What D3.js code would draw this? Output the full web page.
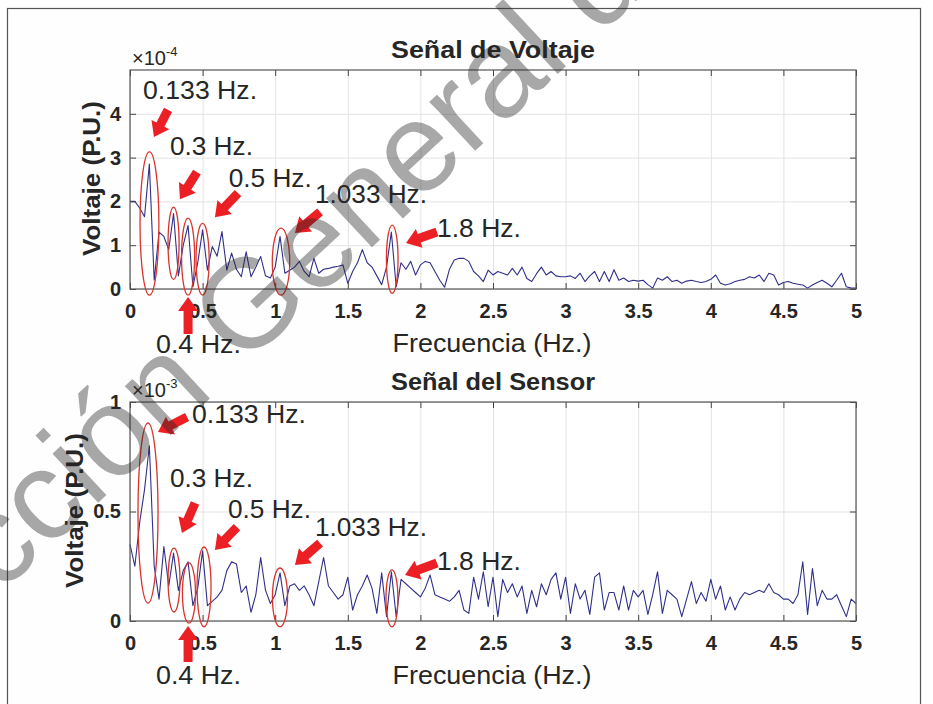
<!DOCTYPE html>
<html>
<head>
<meta charset="utf-8">
<script src="https://cdn.jsdelivr.net/npm/d3@7"></script>
<style>
  body { margin: 0; background: #fff; }
  svg { display: block; }
  text { font-family: "Liberation Sans", Arial, Helvetica, sans-serif; fill: #262626; }
</style>
</head>
<body>
<svg id="chart" width="933" height="704"></svg>
<script>
// spectrum bins, one every 1/30 Hz from 0 to 5 Hz
const binHz = 1 / 30;

// Señal de Voltaje, magnitude x1e-4 P.U.
const voltaje = [
  2.0, 2.0, 1.85, 1.65, 2.85, 0.2, 1.3, 1.2, 0.9, 1.72,
  0.3, 1.0, 1.45, 0.05, 0.6, 1.35, 0.43, 0.97, 0.75, 1.31,
  0.43, 0.82, 0.45, 0.28, 0.85, 0.28, 0.5, 0.74, 0.3, 0.25,
  0.5, 1.2, 0.36, 0.43, 0.5, 0.63, 0.4, 0.28, 0.7, 0.36,
  0.45, 0.47, 0.5, 0.52, 0.55, 0.13, 0.4, 0.6, 0.9, 0.6,
  0.5, 0.3, 0.1, 0.5, 1.3, 0.05, 0.6, 0.45, 0.63, 0.32,
  0.55, 0.63, 0.6, 0.4, 0.2, 0.04, 0.45, 0.66, 0.7, 0.7,
  0.63, 0.4, 0.3, 0.17, 0.43, 0.32, 0.4, 0.36, 0.32, 0.47,
  0.32, 0.5, 0.24, 0.17, 0.35, 0.5, 0.32, 0.4, 0.3, 0.28,
  0.28, 0.3, 0.24, 0.36, 0.17, 0.3, 0.4, 0.17, 0.4, 0.17,
  0.44, 0.2, 0.25, 0.17, 0.2, 0.18, 0.2, 0.1, 0.02, 0.25,
  0.2, 0.28, 0.17, 0.2, 0.13, 0.18, 0.2, 0.17, 0.15, 0.17,
  0.22, 0.32, 0.13, 0.09, 0.12, 0.17, 0.2, 0.22, 0.28, 0.25,
  0.32, 0.17, 0.36, 0.32, 0.09, 0.15, 0.17, 0.13, 0.11, 0.09,
  0.02, 0.09, 0.15, 0.2, 0.13, 0.05, 0.2, 0.36, 0.05, 0.02,
  0.02
];

// Señal del Sensor, magnitude x1e-3 P.U.
const sensor = [
  0.35, 0.25, 0.45, 0.6, 0.8, 0.25, 0.1, 0.34, 0.16, 0.31,
  0.14, 0.23, 0.27, 0.07, 0.15, 0.32, 0.07, 0.09, 0.11, 0.14,
  0.23, 0.27, 0.26, 0.13, 0.16, 0.04, 0.12, 0.29, 0.14, 0.08,
  0.12, 0.22, 0.07, 0.16, 0.17, 0.14, 0.16, 0.12, 0.07, 0.18,
  0.29, 0.16, 0.13, 0.1, 0.12, 0.2, 0.05, 0.12, 0.16, 0.21,
  0.15, 0.035, 0.22, 0.02, 0.225, 0.02, 0.19, 0.17, 0.15, 0.13,
  0.11, 0.15, 0.21, 0.12, 0.11, 0.1, 0.09, 0.11, 0.14, 0.05,
  0.035, 0.2, 0.1, 0.225, 0.065, 0.2, 0.02, 0.19, 0.13, 0.17,
  0.11, 0.16, 0.035, 0.14, 0.065, 0.17, 0.12, 0.19, 0.22, 0.1,
  0.2, 0.035, 0.17, 0.1, 0.14, 0.03, 0.2, 0.22, 0.05, 0.13,
  0.13, 0.05, 0.16, 0.05, 0.14, 0.11, 0.14, 0.03, 0.12, 0.225,
  0.035, 0.14, 0.12, 0.1, 0.02, 0.1, 0.18, 0.08, 0.13, 0.09,
  0.19, 0.1, 0.16, 0.05, 0.11, 0.05, 0.1, 0.13, 0.12, 0.13,
  0.14, 0.13, 0.17, 0.13, 0.12, 0.1, 0.1, 0.08, 0.12, 0.27,
  0.03, 0.24, 0.07, 0.14, 0.1, 0.1, 0.12, 0.07, 0.02, 0.1,
  0.08
];

const xTicks = [0, 0.5, 1, 1.5, 2, 2.5, 3, 3.5, 4, 4.5, 5];
const xTickLabels = ["0", "0.5", "1", "1.5", "2", "2.5", "3", "3.5", "4", "4.5", "5"];
const voltajeYTicks = [0, 1, 2, 3, 4];
const sensorYTicks = [0, 0.5, 1];
const sensorYTickLabels = ["0", "0.5", "1"];

// marked peaks, same in both panels
const peakNames = ["0.133 Hz.", "0.3 Hz.", "0.4 Hz.", "0.5 Hz.", "1.033 Hz.", "1.8 Hz."];

// annotation placement in data units (Hz, panel units): ellipse, arrow tail->tip, label corner
const voltajeMarks = [
  { e: [0.134, 0.065, 3.13, -0.14], a: [0.262, 4.09, 0.165, 3.47], t: [0.09, 4.34] },
  { e: [0.300, 0.038, 1.87, 0.22], a: [0.461, 2.67, 0.344, 2.05], t: [0.275, 3.06] },
  { e: [0.400, 0.045, 1.62, -0.14], a: [0.400, -1.03, 0.400, -0.18], t: [0.179, -1.46] },
  { e: [0.500, 0.045, 1.50, -0.14], a: [0.744, 2.19, 0.585, 1.64], t: [0.68, 2.33] },
  { e: [1.040, 0.060, 1.39, -0.14], a: [1.309, 1.76, 1.136, 1.28], t: [1.274, 1.96] },
  { e: [1.806, 0.040, 1.46, -0.10], a: [2.114, 1.30, 1.901, 1.05], t: [2.114, 1.19] }
];
const sensorMarks = [
  { e: [0.124, 0.069, 0.904, 0.082], a: [0.393, 0.931, 0.193, 0.863], t: [0.427, 0.904] },
  { e: [0.303, 0.041, 0.333, 0.041], a: [0.448, 0.539, 0.358, 0.402], t: [0.275, 0.612] },
  { e: [0.406, 0.045, 0.265, -0.01], a: [0.400, -0.187, 0.400, -0.023], t: [0.179, -0.288] },
  { e: [0.510, 0.048, 0.338, -0.027], a: [0.737, 0.429, 0.585, 0.324], t: [0.675, 0.47] },
  { e: [1.033, 0.052, 0.242, -0.027], a: [1.309, 0.356, 1.136, 0.256], t: [1.274, 0.388] },
  { e: [1.804, 0.041, 0.233, -0.027], a: [2.114, 0.265, 1.894, 0.21], t: [2.114, 0.233] }
];
const labelWidths = [114, 83, 85, 83, 112, 84];

const svg = d3.select("#chart");

// outer frame of the figure
svg.append("rect")
  .attr("x", 7.5).attr("y", 8.5)
  .attr("width", 913).attr("height", 720)
  .attr("fill", "#fefefe")
  .attr("stroke", "#555").attr("stroke-width", 1.2);

const left = 130, right = 856;
const x = d3.scaleLinear().domain([0, 5]).range([left, right]);

function panel(opts) {
  const { top, bottom, ymax, values, yTicks, yTickLabels, exponent, title, ylabelX, marks } = opts;
  const y = d3.scaleLinear().domain([0, ymax]).range([bottom, top]);
  const h = bottom - top, w = right - left;
  const g = svg.append("g");

  g.append("rect")
    .attr("x", left).attr("y", top).attr("width", w).attr("height", h)
    .attr("fill", "#fff");

  // grid
  g.append("g").attr("transform", `translate(0,${bottom})`)
    .call(d3.axisBottom(x).tickValues(xTicks).tickSize(-h).tickFormat(""))
    .call(s => s.select(".domain").remove())
    .selectAll("line").attr("stroke", "#e3e3e3");
  g.append("g").attr("transform", `translate(${left},0)`)
    .call(d3.axisLeft(y).tickValues(yTicks).tickSize(-w).tickFormat(""))
    .call(s => s.select(".domain").remove())
    .selectAll("line").attr("stroke", "#e3e3e3");

  // spectrum line
  const line = d3.line().x((d, i) => x(i * binHz)).y(d => y(d));
  g.append("path").datum(values)
    .attr("d", line)
    .attr("fill", "none")
    .attr("stroke", "#30308a")
    .attr("stroke-width", 1.1)
    .attr("stroke-linejoin", "round");

  // ticks on all four sides, MATLAB style (inward)
  const bx = g.append("g").attr("transform", `translate(0,${bottom})`)
    .call(d3.axisBottom(x).tickValues(xTicks).tickSizeInner(-6).tickSizeOuter(0).tickPadding(15)
      .tickFormat((d, i) => xTickLabels[i]));
  g.append("g").attr("transform", `translate(0,${top})`)
    .call(d3.axisTop(x).tickValues(xTicks).tickSizeInner(-6).tickSizeOuter(0).tickFormat(""));
  const ly = g.append("g").attr("transform", `translate(${left},0)`)
    .call(d3.axisLeft(y).tickValues(yTicks).tickSizeInner(-6).tickSizeOuter(0).tickPadding(9)
      .tickFormat((d, i) => yTickLabels[i]));
  g.append("g").attr("transform", `translate(${right},0)`)
    .call(d3.axisRight(y).tickValues(yTicks).tickSizeInner(-6).tickSizeOuter(0).tickFormat(""));
  g.selectAll(".domain").remove();
  g.selectAll(".tick line").filter(function() { return !this.getAttribute("stroke") || this.getAttribute("stroke") === "currentColor"; })
    .attr("stroke", "#444");
  [bx, ly].forEach(a => a.selectAll("text")
    .attr("font-size", 20).attr("font-weight", "bold").attr("fill", "#262626")
    .style("font-family", '"Liberation Sans", Arial, sans-serif'));

  // box
  g.append("rect")
    .attr("x", left).attr("y", top).attr("width", w).attr("height", h)
    .attr("fill", "none").attr("stroke", "#555").attr("stroke-width", 1.2);

  // exponent label
  const ex = g.append("text").attr("x", left + 2).attr("y", top - 5).attr("font-size", 20);
  ex.append("tspan").text("×10");
  ex.append("tspan").attr("dy", -9).attr("font-size", 13).text(exponent);

  // title and axis labels
  g.append("text").attr("x", (left + right) / 2).attr("y", top - 12)
    .attr("text-anchor", "middle").attr("font-size", 23).attr("font-weight", "bold")
    .attr("textLength", 204).attr("lengthAdjust", "spacingAndGlyphs")
    .text(title);
  g.append("text").attr("x", (left + right) / 2 - 1).attr("y", bottom + 63)
    .attr("text-anchor", "middle").attr("font-size", 25)
    .attr("textLength", 199).attr("lengthAdjust", "spacingAndGlyphs")
    .text("Frecuencia (Hz.)");
  g.append("text")
    .attr("transform", `translate(${ylabelX},${(top + bottom) / 2 - 1}) rotate(-90)`)
    .attr("text-anchor", "middle").attr("font-size", 24).attr("font-weight", "bold")
    .attr("textLength", 155).attr("lengthAdjust", "spacingAndGlyphs")
    .text("Voltaje (P.U.)");

  // red ellipses round the peaks
  g.append("g").selectAll("ellipse").data(marks).join("ellipse")
    .attr("cx", d => x(d.e[0]))
    .attr("rx", d => x(d.e[1]) - x(0))
    .attr("cy", d => (y(d.e[2]) + y(d.e[3])) / 2)
    .attr("ry", d => (y(d.e[3]) - y(d.e[2])) / 2)
    .attr("fill", "none")
    .attr("stroke", "#d8332c")
    .attr("stroke-width", 1.3);

  // block arrows
  function arrowPath(x1, y1, x2, y2) {
    const dx = x2 - x1, dy = y2 - y1, L = Math.hypot(dx, dy);
    const ux = dx / L, uy = dy / L, nx = -uy, ny = ux;
    const sw = 4.5, hw = 10, hl = 14;
    const bxp = x2 - ux * hl, byp = y2 - uy * hl;
    const p = [
      [x1 + nx * sw, y1 + ny * sw],
      [bxp + nx * sw, byp + ny * sw],
      [bxp + nx * hw, byp + ny * hw],
      [x2, y2],
      [bxp - nx * hw, byp - ny * hw],
      [bxp - nx * sw, byp - ny * sw],
      [x1 - nx * sw, y1 - ny * sw]
    ];
    return "M" + p.map(q => q.join(",")).join("L") + "Z";
  }
  g.append("g").selectAll("path").data(marks).join("path")
    .attr("d", d => arrowPath(x(d.a[0]), y(d.a[1]), x(d.a[2]), y(d.a[3])))
    .attr("fill", "#ec1f24");

  // peak labels
  g.append("g").selectAll("text").data(marks).join("text")
    .attr("x", d => x(d.t[0]))
    .attr("y", d => y(d.t[1]))
    .attr("font-size", 25)
    .attr("fill", "#2a2a2a")
    .attr("textLength", (d, i) => labelWidths[i])
    .attr("lengthAdjust", "spacingAndGlyphs")
    .text((d, i) => peakNames[i]);
}

panel({
  top: 70, bottom: 289, ymax: 5,
  values: voltaje, yTicks: voltajeYTicks, yTickLabels: voltajeYTicks.map(String),
  exponent: "-4", title: "Señal de Voltaje", ylabelX: 100, marks: voltajeMarks
});
panel({
  top: 402, bottom: 621, ymax: 1,
  values: sensor, yTicks: sensorYTicks, yTickLabels: sensorYTickLabels,
  exponent: "-3", title: "Señal del Sensor", ylabelX: 83, marks: sensorMarks
});

// repository watermark across the figure
const wm = svg.append("g")
  .attr("transform", "translate(-1,595) rotate(-43)")
  .attr("fill", "#9a9a9a").attr("fill-opacity", 0.4);
wm.append("text").attr("font-size", 127).attr("text-anchor", "end").attr("fill", "inherit").text("Dire");
wm.append("text").attr("font-size", 127).attr("fill", "inherit").text("cción General de Bibliotecas");
</script>
</body>
</html>
